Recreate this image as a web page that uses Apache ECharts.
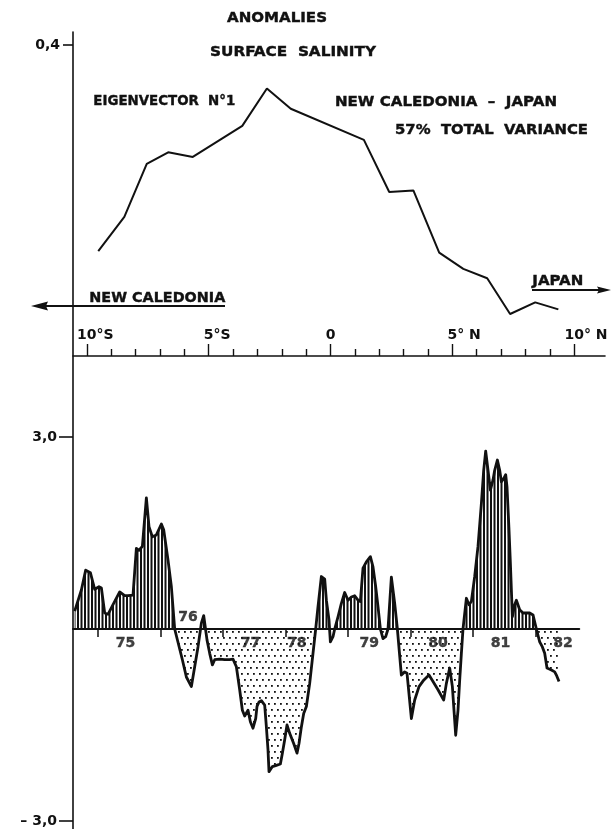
<!DOCTYPE html>
<html>
<head>
<meta charset="utf-8">
<script src="https://cdn.jsdelivr.net/npm/echarts@6/dist/echarts.min.js"></script>
<style>
html,body{margin:0;padding:0;background:#fff;}
#c{width:611px;height:829px;}
</style>
</head>
<body>
<div id="c"></div>
<script>
// ---------------- DATA ----------------
// Top panel: eigenvector n°1 along the New Caledonia - Japan line (latitude, °N positive)
const latitudes = [-9.53, -8.46, -7.54, -6.66, -5.65, -3.62, -2.61, -1.63, 1.37, 2.41, 3.40, 4.46, 5.45, 6.43, 7.37, 8.40, 9.35];
const eigenvector = [0.135, 0.179, 0.247, 0.262, 0.256, 0.296, 0.344, 0.318, 0.278, 0.211, 0.213, 0.133, 0.112, 0.100, 0.054, 0.069, 0.060];
const latTickNumbers = { '-10': '10', '-5': '5', '0': '0', '5': '5', '10': '10' };
const latTickSuffix = { '-10': '°S', '-5': '°S', '0': '', '5': '° N', '10': '° N' };

// Bottom panel: time series of the anomaly amplitude
const years = [
  1974.627,1974.734,1974.803,1974.878,1974.947,1975.016,1975.054,1975.107,1975.160,1975.240,
  1975.347,1975.427,1975.480,1975.560,1975.614,1975.656,1975.710,1975.774,1975.816,1975.870,
  1975.934,1976.014,1976.051,1976.120,1976.174,1976.227,
  1976.350,1976.414,1976.494,1976.547,1976.600,1976.654,1976.691,1976.744,1976.787,1976.830,
  1976.867,1976.947,1977.027,1977.107,1977.160,1977.214,1977.267,1977.310,1977.347,1977.400,
  1977.438,1977.480,1977.523,1977.544,1977.576,1977.614,1977.667,1977.694,1977.720,1977.736,
  1977.790,1977.854,1977.918,1977.950,1977.987,1978.024,1978.067,1978.131,1978.184,1978.216,
  1978.254,1978.291,1978.334,1978.387,1978.440,1978.483,
  1978.520,1978.574,1978.627,1978.654,1978.696,1978.718,1978.760,1978.787,1978.840,1978.894,
  1978.947,1979.000,1979.054,1979.107,1979.160,1979.198,1979.240,1979.294,1979.358,1979.400,
  1979.443,1979.480,1979.518,1979.560,1979.603,1979.640,1979.694,1979.747,1979.790,
  1979.854,1979.907,1979.944,1980.014,1980.067,1980.136,1980.211,1980.296,1980.360,1980.440,
  1980.531,1980.574,1980.627,1980.670,1980.723,1980.760,1980.787,1980.814,1980.840,
  1980.894,1980.936,1980.974,1981.027,1981.080,1981.134,1981.171,1981.203,1981.240,1981.278,
  1981.320,1981.347,1981.390,1981.427,1981.454,1981.491,1981.523,1981.544,1981.576,1981.598,
  1981.630,1981.667,1981.694,1981.747,1981.800,1981.907,1981.960,1982.014,
  1982.067,1982.110,1982.147,1982.184,1982.254,1982.307,1982.334,1982.376
];
const anomalies = [
  0.28,0.61,0.92,0.88,0.62,0.66,0.64,0.25,0.23,0.38,
  0.58,0.52,0.52,0.53,1.26,1.23,1.29,2.05,1.60,1.44,
  1.47,1.64,1.55,1.08,0.66,0,
  -0.48,-0.75,-0.90,-0.59,-0.28,0.09,0.21,-0.17,-0.38,-0.56,
  -0.48,-0.47,-0.48,-0.48,-0.47,-0.59,-0.95,-1.27,-1.36,-1.27,
  -1.45,-1.55,-1.40,-1.21,-1.14,-1.12,-1.19,-1.53,-1.89,-2.23,
  -2.15,-2.13,-2.11,-1.94,-1.73,-1.50,-1.63,-1.79,-1.94,-1.79,
  -1.53,-1.32,-1.21,-0.85,-0.38,0,
  0.35,0.82,0.78,0.45,0.14,-0.20,-0.12,0,0.19,0.40,
  0.57,0.45,0.50,0.52,0.45,0.43,0.95,1.05,1.13,0.97,
  0.66,0.35,0,-0.15,-0.12,0,0.81,0.40,0,
  -0.72,-0.67,-0.69,-1.40,-1.11,-0.90,-0.80,-0.72,-0.82,-0.95,
  -1.11,-0.85,-0.61,-0.90,-1.66,-1.27,-0.80,-0.38,0,
  0.48,0.38,0.43,0.82,1.29,1.96,2.48,2.78,2.48,2.17,
  2.33,2.48,2.64,2.48,2.30,2.35,2.41,2.22,1.55,1.03,
  0.19,0.38,0.45,0.30,0.25,0.25,0.22,0,
  -0.20,-0.28,-0.38,-0.61,-0.64,-0.67,-0.72,-0.82
];
const yearLabels = ['75','76','77','78','79','80','81','82'];
const yearTicks = [1975,1976,1977,1978,1979,1980,1981,1982];

// ---------------- STYLE / LAYOUT ----------------
const FONT_FAMILY = '"DejaVu Sans", "Liberation Sans", sans-serif';
const FONT = 'bold 14px ' + FONT_FAMILY;
const INK = '#111';

function makeHatch() {
  const c = document.createElement('canvas');
  c.width = 7; c.height = 4;
  const g = c.getContext('2d');
  g.fillStyle = INK;
  g.fillRect(0, 0, 2, 4);
  g.fillRect(3.5, 0, 2, 4);
  return c;
}
function makeDots() {
  const c = document.createElement('canvas');
  c.width = 12; c.height = 12;
  const g = c.getContext('2d');
  g.fillStyle = INK;
  [[1,1],[7,1],[4,7],[10,7]].forEach(p => g.fillRect(p[0], p[1], 1.8, 1.8));
  return c;
}

const measureCtx = document.createElement('canvas').getContext('2d');
measureCtx.font = FONT;
function textW(t) { return measureCtx.measureText(t).width; }
function fitText(text, left, cy, width) {
  return {
    type: 'text', x: left, y: cy, scaleX: width / textW(text), z: 100,
    style: { text: text, x: 0, y: 0, font: FONT, fill: INK, stroke: INK, lineWidth: 0.4,
             align: 'left', verticalAlign: 'middle' }
  };
}

const topSeries = latitudes.map((l, i) => [l, eigenvector[i]]);
const timeSeries = years.map((y, i) => [y, anomalies[i]]);
const labelShift = { '78': -0.26, '79': -0.1 };
const labelAbove = { '76': true };
const yearLabelData = yearLabels.map((lab, i) => ({
  name: lab,
  value: [yearTicks[i] + 0.44 + (labelShift[lab] || 0), 0],
  label: { offset: [0, labelAbove[lab] ? -12 : 14] }
}));

const boldLabel = { color: INK, fontWeight: 'bold', fontSize: 14, fontFamily: FONT_FAMILY };
const wS = textW('°S'), wN = textW('° N');
const latRich = {
  s: Object.assign({ padding: [0, 0, 0, wS] }, boldLabel),
  n: Object.assign({ padding: [0, 0, 0, wN] }, boldLabel),
  z: Object.assign({}, boldLabel)
};

const X0 = 1974.6, X1 = 1982.7;
const bottomLeft = 73, bottomWidth = (X1 - X0) * 62.5;
const noAxis = { show: false };
const hiddenX = (gi, min, max) => ({ type: 'value', gridIndex: gi, min: min, max: max, show: false });

const chart = echarts.init(document.getElementById('c'), null, { renderer: 'canvas' });
chart.setOption({
  animation: false,
  backgroundColor: '#fff',
  textStyle: { fontFamily: FONT_FAMILY },
  grid: [
    { left: 86.8, top: 45, width: 487.4, height: 311, outerBoundsMode: 'none' },            // 0 top chart
    { left: 73, top: 45, width: 532, height: 311, outerBoundsMode: 'none' },                // 1 top axis line
    { left: 73, top: 32, width: 20, height: 797, outerBoundsMode: 'none' },                 // 2 frame vertical line
    { left: bottomLeft, top: 437, width: bottomWidth, height: 384, outerBoundsMode: 'none' }, // 3 bottom chart
    { left: bottomLeft, top: 437, width: bottomWidth, height: 192, outerBoundsMode: 'none' }, // 4 positive fill
    { left: bottomLeft, top: 629, width: bottomWidth, height: 192, outerBoundsMode: 'none' }  // 5 negative fill
  ],
  xAxis: [
    {
      type: 'value', gridIndex: 0, min: -10, max: 10, interval: 5,
      axisLine: { show: false, onZero: false },
      axisTick: { show: true, inside: true, length: 12, lineStyle: { color: INK, width: 1.4 } },
      minorTick: { show: true, splitNumber: 5, length: 7, lineStyle: { color: INK, width: 1.4 } },
      axisLabel: Object.assign({
        inside: true, margin: 14, rich: latRich,
        formatter: v => {
          const k = String(v);
          const txt = latTickNumbers[k] + latTickSuffix[k];
          return v < 0 ? '{s|' + txt + '}' : v > 0 ? '{n|' + txt + '}' : '{z|' + txt + '}';
        }
      }, boldLabel),
      splitLine: { show: false }
    },
    {
      type: 'value', gridIndex: 1, min: 0, max: 1,
      axisLine: { show: true, onZero: false, lineStyle: { color: INK, width: 1.6 } },
      axisTick: noAxis, axisLabel: noAxis, splitLine: noAxis
    },
    hiddenX(2, 0, 1),
    {
      type: 'value', gridIndex: 3, min: X0, max: X1,
      axisLine: { show: true, onZero: true, lineStyle: { color: INK, width: 2 } },
      axisTick: { show: true, customValues: yearTicks, length: 8, lineStyle: { color: INK, width: 1.5 } },
      axisLabel: { show: false },
      splitLine: { show: false }
    },
    hiddenX(4, X0, X1),
    hiddenX(5, X0, X1)
  ],
  yAxis: [
    {
      type: 'value', gridIndex: 0, min: 0, max: 0.4, offset: 13.8,
      axisLine: { show: false, onZero: false },
      axisTick: { show: true, customValues: [0.4], length: 10, lineStyle: { color: INK, width: 1.6 } },
      axisLabel: Object.assign({ customValues: [0.4], margin: 13, formatter: () => '0,4' }, boldLabel),
      splitLine: { show: false }
    },
    { type: 'value', gridIndex: 1, min: 0, max: 1, show: false },
    {
      type: 'value', gridIndex: 2, min: 0, max: 1,
      axisLine: { show: true, onZero: false, lineStyle: { color: INK, width: 1.6 } },
      axisTick: noAxis, axisLabel: noAxis, splitLine: noAxis
    },
    {
      type: 'value', gridIndex: 3, min: -3, max: 3,
      axisLine: { show: false, onZero: false },
      axisTick: { show: true, customValues: [-3, 3], length: 14, lineStyle: { color: INK, width: 1.6 } },
      axisLabel: Object.assign({
        customValues: [-3, 3], margin: 16,
        formatter: v => (v > 0 ? '3,0' : '– 3,0')
      }, boldLabel),
      splitLine: { show: false }
    },
    { type: 'value', gridIndex: 4, min: 0, max: 3, show: false },
    { type: 'value', gridIndex: 5, min: -3, max: 0, show: false }
  ],
  series: [
    {
      name: 'Eigenvector n°1', type: 'line', xAxisIndex: 0, yAxisIndex: 0,
      data: topSeries, showSymbol: false, symbol: 'none', clip: false,
      lineStyle: { color: INK, width: 2 }
    },
    {
      name: 'positive', type: 'line', xAxisIndex: 4, yAxisIndex: 4,
      data: timeSeries, symbol: 'none', clip: true,
      lineStyle: { width: 0, opacity: 0 },
      areaStyle: { color: { image: makeHatch(), repeat: 'repeat' }, opacity: 1 }
    },
    {
      name: 'negative', type: 'line', xAxisIndex: 5, yAxisIndex: 5,
      data: timeSeries, symbol: 'none', clip: true,
      lineStyle: { width: 0, opacity: 0 },
      areaStyle: { color: { image: makeDots(), repeat: 'repeat' }, opacity: 1 }
    },
    {
      name: 'Amplitude', type: 'line', xAxisIndex: 3, yAxisIndex: 3,
      data: timeSeries, symbol: 'none', clip: false, z: 5,
      lineStyle: { color: INK, width: 2.8, join: 'round' }
    },
    {
      name: 'years', type: 'scatter', xAxisIndex: 3, yAxisIndex: 3,
      data: yearLabelData, symbolSize: 1, itemStyle: { color: 'rgba(0,0,0,0)' }, z: 6, clip: false,
      label: Object.assign({ show: true, position: 'inside', formatter: p => p.name,
                             textBorderColor: INK, textBorderWidth: 0.4 }, boldLabel)
    }
  ],
  graphic: [
    fitText('ANOMALIES', 227, 18.3, 100),
    fitText('SURFACE  SALINITY', 210, 52, 166),
    fitText('EIGENVECTOR  N°1', 93.3, 101.7, 142),
    fitText('NEW CALEDONIA  –  JAPAN', 335, 102.3, 222),
    fitText('57%  TOTAL  VARIANCE', 395, 130, 193),
    fitText('NEW CALEDONIA', 89.3, 298.3, 136),
    fitText('JAPAN', 532.3, 281.7, 51),
    { type: 'line', z: 100, shape: { x1: 44, y1: 306, x2: 225, y2: 306 }, style: { stroke: INK, lineWidth: 1.8 } },
    { type: 'polygon', z: 100, shape: { points: [[31, 306], [48, 301.5], [46, 306], [48, 310.5]] }, style: { fill: INK } },
    { type: 'line', z: 100, shape: { x1: 532, y1: 290, x2: 600, y2: 290 }, style: { stroke: INK, lineWidth: 1.8 } },
    { type: 'polygon', z: 100, shape: { points: [[611, 290], [597, 286.5], [599, 290], [597, 293.5]] }, style: { fill: INK } }
  ]
});
</script>
</body>
</html>
